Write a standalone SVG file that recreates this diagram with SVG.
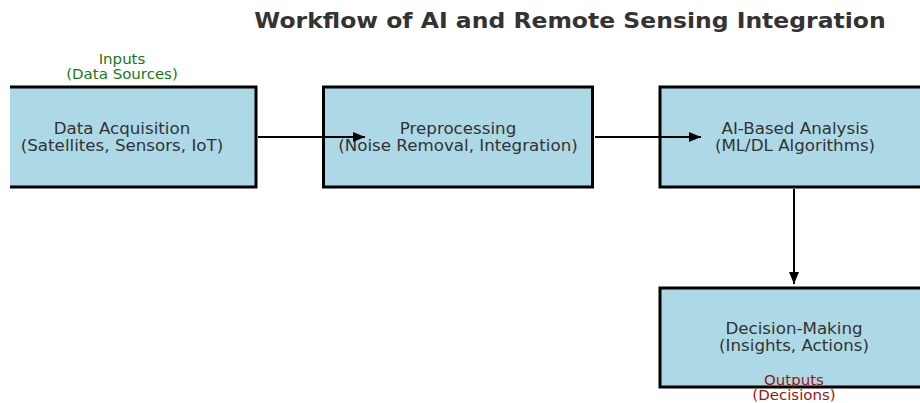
<svg xmlns="http://www.w3.org/2000/svg" width="920" height="403" viewBox="0 0 920 403">
  <style>
    .box { fill: #add8e6; stroke: #000; stroke-width: 3; }
    .lbl { font-family: "DejaVu Sans", sans-serif; font-size: 16.7px; fill: #333; text-anchor: middle; }
    .title { font-family: "DejaVu Sans", sans-serif; font-size: 23.5px; font-weight: bold; fill: #333; text-anchor: middle; }
    .in { font-family: "DejaVu Sans", sans-serif; font-size: 15px; fill: #157a15; text-anchor: middle; }
    .out { font-family: "DejaVu Sans", sans-serif; font-size: 15px; fill: #9b1515; text-anchor: middle; }
    .edge { stroke: #000; stroke-width: 2; fill: none; marker-end: url(#arrow); }
  </style>
  <defs>
    <marker id="arrow" markerWidth="12" markerHeight="10" refX="12" refY="5" orient="auto" markerUnits="userSpaceOnUse">
      <path d="M0,0 L12,5 L0,10 Z" fill="#000"/>
    </marker>
    <clipPath id="axes">
      <rect x="10" y="0" width="910" height="403"/>
    </clipPath>
  </defs>
  <rect width="920" height="403" fill="#fff"/>

  <!-- text is set slightly flattened (scale y 0.91) to keep the wide glyph proportions -->
  <g transform="translate(570,28) scale(1,0.9)">
    <text class="title" x="0" y="0">Workflow of AI and Remote Sensing Integration</text>
  </g>

  <g clip-path="url(#axes)">
    <g id="acquisition">
      <rect class="box" x="-10" y="87" width="266" height="100"/>
      <g transform="translate(122,134) scale(1,0.91)">
        <text class="lbl" x="0" y="0">Data Acquisition</text>
        <text class="lbl" x="0" y="18.7">(Satellites, Sensors, IoT)</text>
      </g>
    </g>
    <g id="preprocessing">
      <rect class="box" x="323.5" y="87" width="269" height="100"/>
      <g transform="translate(458,134) scale(1,0.91)">
        <text class="lbl" x="0" y="0">Preprocessing</text>
        <text class="lbl" x="0" y="18.7">(Noise Removal, Integration)</text>
      </g>
    </g>
    <g id="analysis">
      <rect class="box" x="660" y="87" width="280" height="100"/>
      <g transform="translate(795,134) scale(1,0.91)">
        <text class="lbl" x="0" y="0">AI-Based Analysis</text>
        <text class="lbl" x="0" y="18.7">(ML/DL Algorithms)</text>
      </g>
    </g>
    <g id="decision">
      <rect class="box" x="660" y="288" width="280" height="99"/>
      <g transform="translate(794,334) scale(1,0.91)">
        <text class="lbl" x="0" y="0">Decision-Making</text>
        <text class="lbl" x="0" y="18.7">(Insights, Actions)</text>
      </g>
    </g>
  </g>

  <g id="connectors">
    <line class="edge" x1="258" y1="137" x2="365" y2="137"/>
    <line class="edge" x1="595" y1="137" x2="701" y2="137"/>
    <line class="edge" x1="794" y1="189" x2="794" y2="284"/>
  </g>

  <g id="inputs-note" transform="translate(122,64) scale(1,0.91)">
    <text class="in" x="0" y="0">Inputs</text>
    <text class="in" x="0" y="16">(Data Sources)</text>
  </g>
  <g id="outputs-note" transform="translate(794,385) scale(1,0.91)">
    <text class="out" x="0" y="0">Outputs</text>
    <text class="out" x="0" y="16">(Decisions)</text>
  </g>
</svg>
